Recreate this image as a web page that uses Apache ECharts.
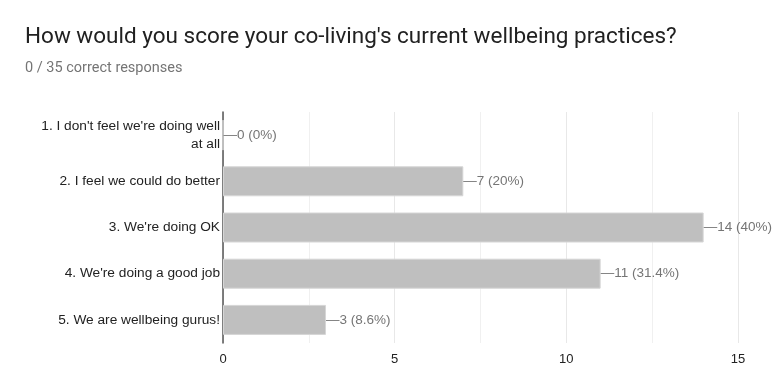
<!DOCTYPE html>
<html><head><meta charset="utf-8">
<script src="https://cdn.jsdelivr.net/npm/echarts@6/dist/echarts.min.js"></script>
<style>html,body{margin:0;padding:0;background:#fff}#c{width:778px;height:385px}</style>
</head><body><div id="c"></div>
<script>
const categories = [
  "1. I don't feel we're doing well\nat all",
  "2. I feel we could do better",
  "3. We're doing OK",
  "4. We're doing a good job",
  "5. We are wellbeing gurus!"
];
const counts = [0, 7, 14, 11, 3];
const percents = ["0%", "20%", "40%", "31.4%", "8.6%"];
const xTicks = [0, 5, 10, 15];
const titleText = "How would you score your co-living's current wellbeing practices?";
const subtitleText = "0 / 35 correct responses";

const chart = echarts.init(document.getElementById('c'));
chart.setOption({
  animation: false,
  textStyle: {fontFamily: 'Liberation Sans, Arial, sans-serif'},
  title: {
    text: titleText,
    subtext: subtitleText,
    left: 20, top: 21,
    itemGap: 12,
    textStyle: {fontSize: 22.5, fontWeight: 'normal', color: '#212121', fontFamily: 'Roboto, Liberation Sans, sans-serif'},
    subtextStyle: {fontSize: 14.5, color: '#757575', fontFamily: 'Roboto, Liberation Sans, sans-serif'}
  },
  grid: {left: 223, right: 40, top: 112, bottom: 42, containLabel: false},
  xAxis: {
    type: 'value', min: xTicks[0], max: xTicks[xTicks.length - 1], interval: 5,
    axisLine: {show: false}, axisTick: {show: false},
    axisLabel: {color: '#222', fontSize: 13, margin: 10},
    splitLine: {show: true, lineStyle: {color: '#e8e8e8'}},
    minorTick: {show: false, splitNumber: 2},
    minorSplitLine: {show: true, lineStyle: {color: '#f0f0f0'}}
  },
  yAxis: {
    type: 'category', inverse: true, data: categories,
    axisLine: {show: true, lineStyle: {color: '#555', width: 1.5}},
    axisTick: {show: false},
    axisLabel: {color: '#222', fontSize: 13.7, margin: 3, lineHeight: 18, align: 'right'}
  },
  series: [{
    type: 'bar', data: counts, barWidth: 30,
    itemStyle: {color: '#bfbfbf', borderColor: '#d6d6d6', borderWidth: 1},
    label: {
      show: true, position: 'right', distance: 0,
      color: '#757575', fontSize: 13.5,
      formatter: p => '\u2014' + counts[p.dataIndex] + ' (' + percents[p.dataIndex] + ')'
    }
  }]
});
</script></body></html>
